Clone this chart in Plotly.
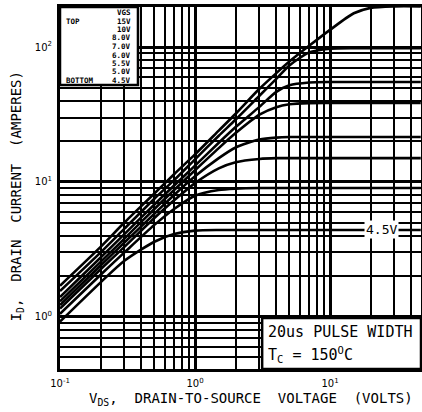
import math
import plotly.graph_objects as go

# ---- data ----
VDS = [0.1, 0.2, 0.3, 0.5, 0.7, 1.0, 1.5, 2, 3, 4, 5, 7, 10, 15, 20, 30, 47]
ID_15V = [1.7, 3.3, 5.0, 8.2, 11.4, 16, 24, 32, 49, 64, 78, 102, 134, 178, 195, 200, 200]
ID_10V = [1.55, 3.0, 4.5, 7.5, 10.3, 14.7, 22, 29, 43.5, 58, 73, 91, 97, 98, 98, 98, 98]
ID_8V = [1.4, 2.75, 4.1, 6.8, 9.4, 13.2, 19.5, 25.5, 36, 46.5, 52, 54.5, 55, 55, 55, 55, 55]
ID_7V = [1.3, 2.55, 3.8, 6.3, 8.7, 12.2, 17.8, 23, 31.5, 35.8, 37.6, 38.4, 38.5, 38.5, 38.5, 38.5, 38.5]
ID_6V = [1.22, 2.4, 3.55, 5.8, 8.0, 11, 15, 18, 20.6, 21.3, 21.5, 21.5, 21.5, 21.5, 21.5, 21.5, 21.5]
ID_55V = [1.15, 2.25, 3.3, 5.4, 7.3, 9.8, 12.6, 14, 14.8, 15, 15, 15, 15, 15, 15, 15, 15]
ID_5V = [1.05, 2.05, 3.0, 4.8, 6.3, 7.9, 8.7, 8.9, 9, 9, 9, 9, 9, 9, 9, 9, 9]
ID_45V = [0.92, 1.8, 2.6, 3.6, 4.1, 4.35, 4.4, 4.4, 4.4, 4.4, 4.4, 4.4, 4.4, 4.4, 4.4, 4.4, 4.4]

SERIES = [ID_15V, ID_10V, ID_8V, ID_7V, ID_6V, ID_55V, ID_5V, ID_45V]
VGS_LABELS = ["15V", "10V", "8.0V", "7.0V", "6.0V", "5.5V", "5.0V", "4.5V"]

X_TICKS = [0.1, 1, 10]
X_TICKTEXT = ["10<sup>-1</sup>", "10<sup>0</sup>", "10<sup>1</sup>"]
X_MINOR = [0.2, 0.3, 0.4, 0.5, 0.6, 0.7, 0.8, 0.9, 2, 3, 4, 5, 6, 7, 8, 9, 20, 30, 40]
Y_TICKS = [1, 10, 100]
Y_TICKTEXT = ["10<sup>0</sup>", "10<sup>1</sup>", "10<sup>2</sup>"]
Y_MINOR = [0.5, 0.6, 0.7, 0.8, 0.9, 2, 3, 4, 5, 6, 7, 8, 9, 20, 30, 40, 50, 60, 70, 80, 90]

X_RANGE = [0.1, 47.2]
Y_RANGE = [0.41, 198]

fig = go.Figure()
for ys, name in zip(SERIES, VGS_LABELS):
    fig.add_trace(go.Scatter(x=VDS, y=ys, mode="lines", name=name,
                             line=dict(color="black", width=2.6, shape="spline", smoothing=0.7),
                             showlegend=False, hoverinfo="skip"))

tickfont = dict(family="DejaVu Sans", size=10, color="black")
fig.update_xaxes(type="log", range=[math.log10(X_RANGE[0]), math.log10(X_RANGE[1])],
                 tickmode="array", tickvals=X_TICKS, ticktext=X_TICKTEXT,
                 showgrid=True, gridcolor="black", gridwidth=2.6,
                 minor=dict(tickmode="array", tickvals=X_MINOR, showgrid=True,
                            gridcolor="black", gridwidth=1.6, ticks=""),
                 showline=True, linewidth=3, linecolor="black", mirror=True,
                 ticks="", zeroline=False, tickfont=tickfont, ticklabelstandoff=3,
                 automargin=False)
fig.update_yaxes(type="log", range=[math.log10(Y_RANGE[0]), math.log10(Y_RANGE[1])],
                 tickmode="array", tickvals=Y_TICKS, ticktext=Y_TICKTEXT,
                 showgrid=True, gridcolor="black", gridwidth=2.6,
                 minor=dict(tickmode="array", tickvals=Y_MINOR, showgrid=True,
                            gridcolor="black", gridwidth=1.6, ticks=""),
                 showline=True, linewidth=3, linecolor="black", mirror=True,
                 ticks="", zeroline=False, tickfont=tickfont, ticklabelstandoff=3,
                 automargin=False)

PH = 362.0  # plot height in px
shapes = []
annotations = []
# legend box (top-left)
shapes.append(dict(type="rect", xref="paper", yref="paper", x0=0, x1=0.216, y0=1 - 78 / PH, y1=1,
                   fillcolor="white", line=dict(color="black", width=2.5), layer="above"))
lfont = dict(family="DejaVu Sans Mono", size=7.5, color="black")
rows = ["VGS"] + VGS_LABELS
row_h = 8.5 / PH
y_first = 1 - 5.5 / PH
for i, t in enumerate(rows):
    yv = y_first - i * row_h
    annotations.append(dict(xref="paper", yref="paper", x=0.203, y=yv, text="<b>" + t + "</b>",
                            showarrow=False, xanchor="right", yanchor="middle", font=lfont))
annotations.append(dict(xref="paper", yref="paper", x=0.01, y=y_first - row_h,
                        text="<b>TOP</b>", showarrow=False, xanchor="left", yanchor="middle", font=lfont))
annotations.append(dict(xref="paper", yref="paper", x=0.01, y=y_first - 8 * row_h,
                        text="<b>BOTTOM</b>", showarrow=False, xanchor="left", yanchor="middle", font=lfont))

# pulse box (bottom-right)
shapes.append(dict(type="rect", xref="paper", yref="paper", x0=0.56, x1=1, y0=0, y1=0.141,
                   fillcolor="white", line=dict(color="black", width=2.5), layer="above"))
bfont = dict(family="DejaVu Sans Mono", size=15, color="black")
annotations.append(dict(xref="paper", yref="paper", x=0.57, y=0.103, text="20us PULSE WIDTH",
                        showarrow=False, xanchor="left", yanchor="middle", font=bfont))
annotations.append(dict(xref="paper", yref="paper", x=0.57, y=0.040,
                        text="T<sub>C</sub> = 150<sup>O</sup>C",
                        showarrow=False, xanchor="left", yanchor="middle", font=bfont))

# 4.5V curve label
annotations.append(dict(x=math.log10(24), y=math.log10(ID_45V[-1]), xref="x", yref="y", text="4.5V",
                        showarrow=False, bgcolor="white", font=dict(family="DejaVu Sans Mono", size=13, color="black"),
                        borderpad=1))

# axis titles
tfont = dict(family="DejaVu Sans Mono", size=14, color="black")
annotations.append(dict(xref="paper", yref="paper", x=0.53, y=-0.083,
                        text="V<sub>DS</sub>,  DRAIN-TO-SOURCE  VOLTAGE  (VOLTS)",
                        showarrow=False, xanchor="center", yanchor="middle", font=tfont))
annotations.append(dict(xref="paper", yref="paper", x=-0.118, y=0.478,
                        text="I<sub>D</sub>,  DRAIN  CURRENT  (AMPERES)", textangle=-90,
                        showarrow=False, xanchor="center", yanchor="middle", font=tfont))

fig.update_layout(width=422, height=412, margin=dict(l=60, r=1, t=7, b=43, autoexpand=False),
                  paper_bgcolor="white", plot_bgcolor="white",
                  shapes=shapes, annotations=annotations, showlegend=False)

fig.write_html("out.html", config={"displayModeBar": False},
               post_script="document.body.style.margin='0';document.body.style.overflow='hidden';")
